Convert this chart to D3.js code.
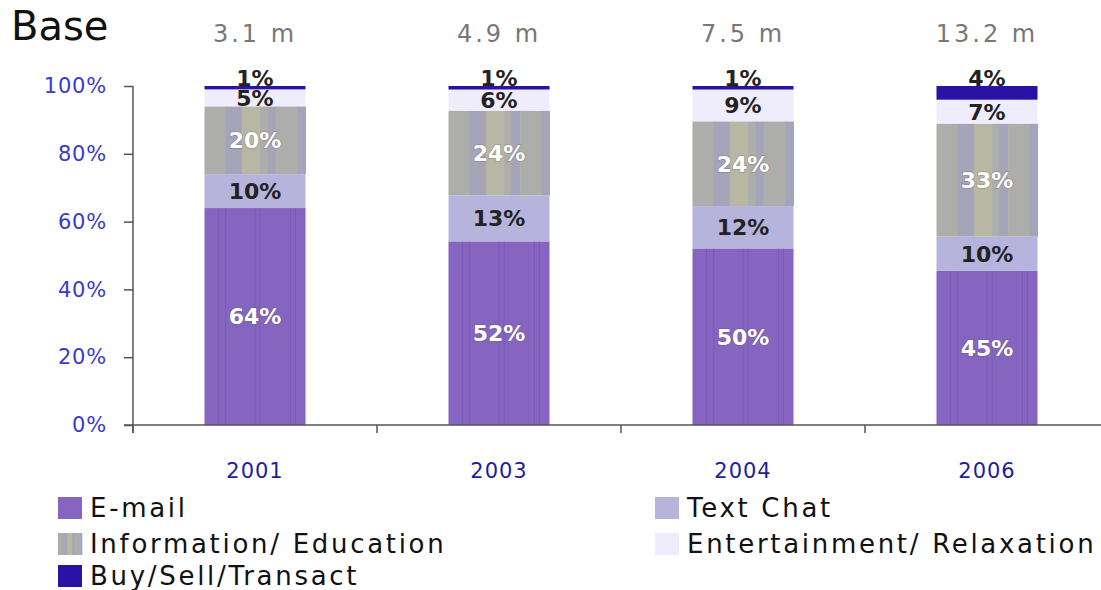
<!DOCTYPE html>
<html>
<head>
<meta charset="utf-8">
<script src="https://cdn.jsdelivr.net/npm/d3@7"></script>
<style>
  body { margin: 0; background: #fff; }
  svg { display: block; font-family: "DejaVu Sans", Verdana, sans-serif; }
</style>
</head>
<body>
<svg id="chart" width="1101" height="590"></svg>
<script>
// DATA
var years = ["2001", "2003", "2004", "2006"];
var bases = ["3.1 m", "4.9 m", "7.5 m", "13.2 m"];
var series = ["E-mail", "Text Chat", "Information/ Education", "Entertainment/ Relaxation", "Buy/Sell/Transact"];
var email = [64, 52, 50, 45];
var textChat = [10, 13, 12, 10];
var infoEdu = [20, 24, 24, 33];
var entertain = [5, 6, 9, 7];
var buySell = [1, 1, 1, 4];
var yTicks = [0, 0.2, 0.4, 0.6, 0.8, 1];

var colors = ["#8565bf", "#b6b4dc", "url(#stripes)", "#efecfc", "#2a12a4"];
var labelColors = ["#fff", "#222", "#fff", "#222", "#222"];

var rows = years.map(function (y, i) {
    return { year: y, s0: email[i], s1: textChat[i], s2: infoEdu[i], s3: entertain[i], s4: buySell[i] };
});
var keys = ["s0", "s1", "s2", "s3", "s4"];

var svg = d3.select("#chart");

// stripes for Information/ Education (fractions of bar width)
var stripes = [[0, 0.21, "#adadab"], [0.21, 0.37, "#a5a4b8"], [0.37, 0.55, "#b7b7a3"], [0.55, 0.62, "#adadab"],
               [0.62, 0.71, "#a5a4b8"], [0.71, 0.92, "#adadab"], [0.92, 1, "#a5a4b8"]];

// SCALES
var x = d3.scaleBand().domain(years).range([133, 1109]).paddingInner(0.586).paddingOuter(0.293);
var y = d3.scaleLinear().domain([0, 1]).range([425, 86]);

var stack = d3.stack().keys(keys).offset(d3.stackOffsetExpand);
var layers = stack(rows);

// BARS
var g = svg.append("g");
layers.forEach(function (layer, k) {
    layer.forEach(function (d, i) {
        var x0 = x(years[i]);
        var top = y(d[1]), bot = y(d[0]);
        if (k == 2) {
            stripes.forEach(function (s) {
                g.append("rect")
                    .attr("x", x0 + s[0] * x.bandwidth())
                    .attr("y", top)
                    .attr("width", (s[1] - s[0]) * x.bandwidth() + 0.5)
                    .attr("height", bot - top)
                    .attr("fill", s[2]);
            });
        } else {
            g.append("rect")
                .attr("x", x0).attr("y", top)
                .attr("width", x.bandwidth()).attr("height", bot - top)
                .attr("fill", colors[k]);
        }
        if (k == 0) {
            // faint vertical lines on e-mail segment
            [0.14, 0.21, 0.5, 0.55, 0.85, 0.9].forEach(function (f) {
                g.append("line")
                    .attr("x1", x0 + f * x.bandwidth()).attr("x2", x0 + f * x.bandwidth())
                    .attr("y1", top).attr("y2", bot)
                    .attr("stroke", "#7a5bb8").attr("stroke-width", 1);
            });
        }
    });
});

// SEGMENT LABELS
var vals = [email, textChat, infoEdu, entertain, buySell];
layers.forEach(function (layer, k) {
    layer.forEach(function (d, i) {
        var cy = k == 4 ? y(d[1]) - 8 : (y(d[0]) + y(d[1])) / 2;
        svg.append("text")
            .attr("x", x(years[i]) + x.bandwidth() / 2)
            .attr("y", cy)
            .attr("dy", "0.36em")
            .attr("text-anchor", "middle")
            .attr("font-size", 22)
            .attr("font-weight", "bold")
            .attr("fill", labelColors[k])
            .style("paint-order", "stroke")
            .attr("stroke", k == 0 || k == 2 ? "rgba(90,90,90,0.35)" : "none")
            .attr("stroke-width", 1.5)
            .text(vals[k][i] + "%");
    });
});

// Y AXIS
var yAxis = svg.append("g")
    .attr("transform", "translate(133,0)")
    .call(d3.axisLeft(y).tickValues(yTicks).tickFormat(d3.format(".0%")).tickSize(9).tickSizeOuter(0).tickPadding(17));
yAxis.select(".domain").remove();
yAxis.selectAll(".tick line").attr("stroke", "#555").attr("stroke-width", 1.5);
yAxis.selectAll("text")
    .attr("font-size", 21)
    .attr("fill", "#3a3ad0")
    .attr("letter-spacing", 0.8)
    .attr("font-family", "DejaVu Sans, sans-serif");
svg.append("line").attr("x1", 133).attr("x2", 133).attr("y1", 86).attr("y2", 433)
    .attr("stroke", "#555").attr("stroke-width", 1.5);

// X AXIS
svg.append("line").attr("x1", 124).attr("x2", 1101).attr("y1", 425).attr("y2", 425)
    .attr("stroke", "#555").attr("stroke-width", 1.5);
years.forEach(function (yr) {
    var bx = x(yr) - (x.step() - x.bandwidth()) / 2;
    svg.append("line").attr("x1", bx).attr("x2", bx).attr("y1", 425).attr("y2", 433)
        .attr("stroke", "#555").attr("stroke-width", 1.5);
    svg.append("text")
        .attr("x", x(yr) + x.bandwidth() / 2)
        .attr("y", 478)
        .attr("text-anchor", "middle")
        .attr("font-size", 21)
        .attr("letter-spacing", 1)
        .attr("fill", "#1e1e9e")
        .text(yr);
});

// BASE TOTALS
svg.append("text").attr("x", 11).attr("y", 40).attr("font-size", 40).attr("fill", "#111").text("Base");
years.forEach(function (yr, i) {
    svg.append("text")
        .attr("x", x(yr) + x.bandwidth() / 2)
        .attr("y", 42)
        .attr("text-anchor", "middle")
        .attr("font-size", 24)
        .attr("letter-spacing", 3)
        .attr("fill", "#777")
        .text(bases[i]);
});

// LEGEND
var legendPos = [[58, 508], [655, 508], [58, 544], [655, 544], [58, 576]];
series.forEach(function (name, k) {
    var p = legendPos[k];
    if (k == 2) {
        stripes.forEach(function (s) {
            svg.append("rect").attr("x", p[0] + s[0] * 24).attr("y", p[1] - 11)
                .attr("width", (s[1] - s[0]) * 24 + 0.3).attr("height", 22).attr("fill", s[2]);
        });
    } else {
        svg.append("rect").attr("x", p[0]).attr("y", p[1] - 11).attr("width", 24).attr("height", 22)
            .attr("fill", colors[k]);
    }
    svg.append("text")
        .attr("x", p[0] + 32)
        .attr("y", p[1])
        .attr("dy", "0.36em")
        .attr("font-size", 26)
        .attr("letter-spacing", 2.7)
        .attr("fill", "#111")
        .text(name);
});
</script>
</body>
</html>
